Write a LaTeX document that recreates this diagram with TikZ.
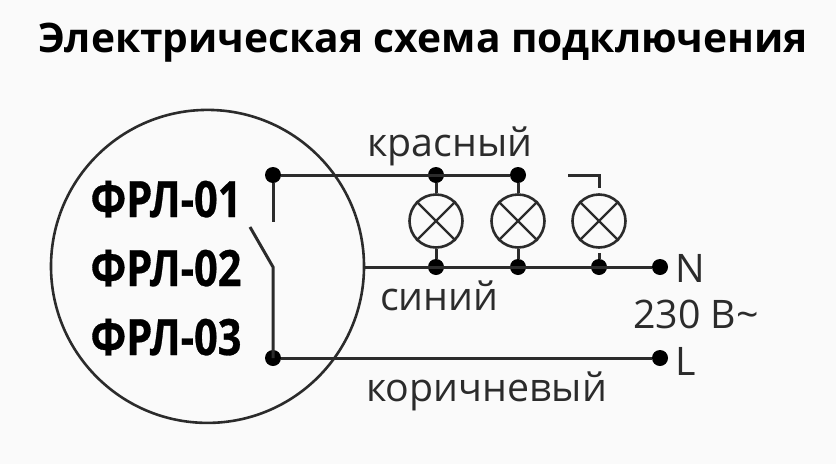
\documentclass[tikz,border=0pt]{standalone}
\usepackage{fontspec}
\setmainfont{Open Sans}
\newfontfamily\narrowbold[FakeStretch=0.83,FakeBold=0.6]{Open Sans Bold}
\definecolor{ink}{HTML}{2B2B2B}
\tikzset{
  wire/.style={draw=ink,line width=3pt},
  thin wire/.style={draw=ink,line width=2.4pt},
  dot/.style={circle,fill=black,inner sep=0pt,minimum size=16pt},
  lamp/.style={circle,draw=ink,line width=2.6pt,inner sep=0pt,minimum size=53pt},
  lbl/.style={inner sep=0pt,text=ink,font=\fontsize{39.3}{39.3}\selectfont,anchor=base west},
  dev/.style={inner sep=0pt,text=black,font=\narrowbold\fontsize{50}{50}\selectfont,anchor=base},
  ttl/.style={inner sep=0pt,text=black,font=\bfseries\fontsize{40.7}{40.7}\selectfont,anchor=base}
}
\begin{document}
\begin{tikzpicture}[x=1pt,y=-1pt]
\useasboundingbox (0,0) rectangle (836,464);
\fill[white!98!black] (0,0) rectangle (836,464);
\node[ttl] (title) at (423,52) {Электрическая схема подключения};
\node[circle,draw=ink,line width=2.6pt,inner sep=0pt,minimum size=313pt] (body) at (207.5,266.4) {};
% dots
\node[dot] (a1) at (273,175) {};
\node[dot] (a2) at (436,175) {};
\node[dot] (a3) at (518,175) {};
\node[dot] (b2) at (436,267) {};
\node[dot] (b3) at (518,267) {};
\node[dot] (b4) at (599,267) {};
\node[dot] (n) at (660,267) {};
\node[dot] (c1) at (273,358) {};
\node[dot] (l) at (660,358) {};
% lamps
\node[lamp] (la) at (436,221) {};
\node[lamp] (lb) at (518,221) {};
\node[lamp] (lc) at (599,221) {};
\foreach \m in {la,lb,lc}{
  \draw[thin wire] (\m.north west) -- (\m.south east);
  \draw[thin wire] (\m.north east) -- (\m.south west);
}
% wires
\draw[wire] (a1) -- (a3);
\draw[wire] (a2) -- (la);
\draw[wire] (a3) -- (lb);
\draw[wire] (la) -- (b2);
\draw[wire] (lb) -- (b3);
\draw[wire] (body.east |- n) -- (n);
\draw[wire] (c1) -- (l);
% switch
\coordinate (s1) at (273,222);
\coordinate (s2) at (250,227);
\coordinate (s3) at (273,267);
\draw[wire] (a1) -- (s1);
\draw[wire] (s2) -- (s3) -- (s3 |- c1);
% third lamp stubs
\coordinate (t1) at (568,175);
\coordinate (t2) at (599,175);
\coordinate (t3) at (599,188);
\coordinate (t4) at (599,253);
\draw[wire] (t1) -- (t2) -- (t3);
\draw[wire] (t4) -- (b4);
% labels
\node[lbl] (red) at (367,156) {красный};
\node[lbl] (blue) at (380,310) {синий};
\node[lbl] (brown) at (366,401) {коричневый};
\node[lbl] (nl) at (675,282) {N};
\node[lbl] (ll) at (675,375) {L};
\node[lbl] (v) at (633,328) {230 В\char`\~};
\node[dev] (f1) at (166,217) {ФРЛ-01};
\node[dev] (f2) at (166,286) {ФРЛ-02};
\node[dev] (f3) at (166,355) {ФРЛ-03};
\end{tikzpicture}
\end{document}
